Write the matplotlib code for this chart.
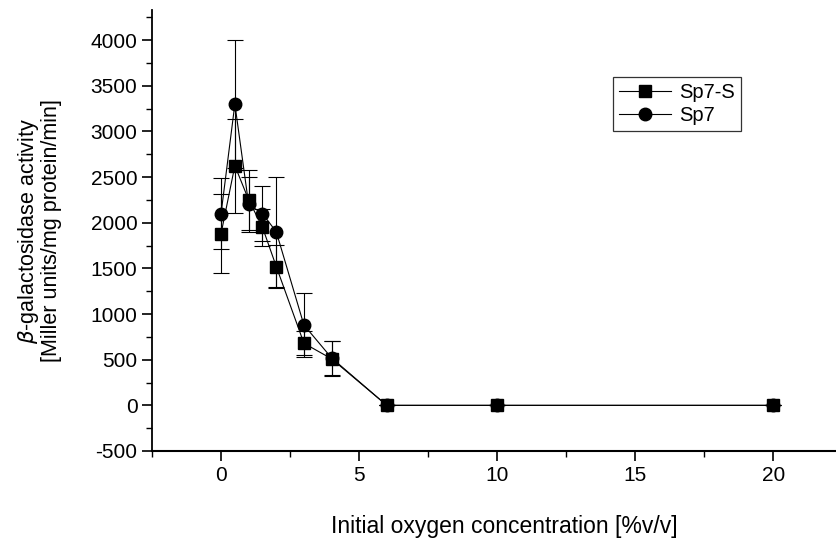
import matplotlib
matplotlib.use("Agg")
import matplotlib.pyplot as plt
from matplotlib.ticker import MultipleLocator

plt.rcParams['font.family'] = ['Liberation Sans', 'DejaVu Sans']
plt.rcParams['axes.unicode_minus'] = False

# oxygen concentration (% v/v)
oxygen = [0, 0.5, 1, 1.5, 2, 3, 4, 6, 10, 20]

# Sp7-S (squares)
sp7s = [1880, 2625, 2250, 1950, 1520, 680, 510, 0, 0, 0]
sp7s_err = [430, 515, 330, 200, 240, 130, 190, 0, 0, 0]

# Sp7 (circles)
sp7 = [2100, 3300, 2200, 2100, 1900, 880, 520, 0, 0, 0]
sp7_err = [390, 700, 300, 300, 600, 350, 190, 0, 0, 0]

fig = plt.figure(figsize=(8.37, 5.41), dpi=100)
ax = fig.add_axes([152 / 837, 1 - 451 / 541, 1 - 152 / 837, (451 - 10) / 541])

ax.errorbar(oxygen, sp7s, yerr=sp7s_err, color='black', marker='s', ms=8,
            lw=0.8, elinewidth=0.8, capsize=6, capthick=0.8, label='Sp7-S')
ax.errorbar(oxygen, sp7, yerr=sp7_err, color='black', marker='o', ms=9,
            lw=0.8, elinewidth=0.8, capsize=6, capthick=0.8, label='Sp7')

ax.set_xlim(-2.5, 22.3)
ax.set_ylim(-500, 4330)
ax.xaxis.set_major_locator(MultipleLocator(5))
ax.xaxis.set_minor_locator(MultipleLocator(2.5))
ax.yaxis.set_major_locator(MultipleLocator(500))
ax.yaxis.set_minor_locator(MultipleLocator(250))

for side in ['top', 'right']:
    ax.spines[side].set_visible(False)
ax.spines['left'].set_linewidth(1.3)
ax.spines['bottom'].set_linewidth(1.5)
ax.tick_params(which='major', length=7, width=1.2, labelsize=15, direction='out')
ax.tick_params(which='minor', length=4, width=1.0, direction='out')

ax.set_xlabel('Initial oxygen concentration [%v/v]', fontsize=16.5)
ax.xaxis.set_label_coords(0.515, -0.145)
ax.set_ylabel('$\\it{\\beta}$-galactosidase activity\n[Miller units/mg protein/min]',
              fontsize=15.5, linespacing=1.0)
ax.yaxis.set_label_coords(-0.131, 0.5)

handles, labels = ax.get_legend_handles_labels()
handles = [h[0] for h in handles]
leg = ax.legend(handles, labels, loc='upper left',
                bbox_to_anchor=(613 / 837, 1 - 77 / 541), bbox_transform=fig.transFigure,
                borderaxespad=0, fontsize=14.5, frameon=True, fancybox=False,
                handlelength=2.6, handletextpad=0.4, labelspacing=0.2,
                borderpad=0.3, numpoints=1)
leg.get_frame().set_edgecolor('black')
leg.get_frame().set_linewidth(0.9)

fig.savefig('out.png', dpi=100)
